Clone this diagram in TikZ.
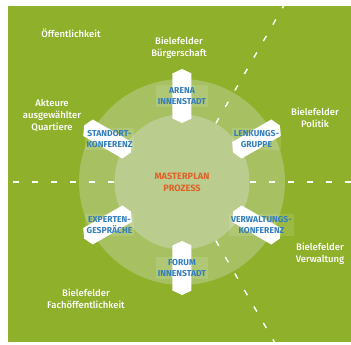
\documentclass[tikz,border=0pt]{standalone}
\usepackage{fontspec}
\setmainfont{Fira Sans}
\newfontfamily\groupfont{Fira Sans}[UprightFont=* Medium]
\usetikzlibrary{shapes.symbols}
\definecolor{meadow}{RGB}{143,176,42}
\definecolor{ringgreen}{RGB}{166,192,98}
\definecolor{coregreen}{RGB}{186,204,142}
\definecolor{stageblue}{RGB}{50,126,190}
\definecolor{masterorange}{RGB}{222,98,40}

\begin{document}
\begin{tikzpicture}[x=1pt,y=1pt,
    hexbox/.style = {shape=signal, signal to=east and west, signal pointer angle=130, fill=white, minimum width=54pt, minimum height=19pt, inner sep=0pt},
    stage/.style = {align=center, text=stageblue, font=\bfseries\fontsize{8.6}{11}\selectfont, fill=white, fill opacity=0.12, text opacity=1, inner sep=2pt},
    group/.style = {align=center, text=white, font=\groupfont\fontsize{9.5}{12}\selectfont},
    divider/.style = {draw=white, line width=1.4pt, dash pattern=on 6pt off 13pt}]

      \useasboundingbox (-182,-163) rectangle (169,182);
      \fill[meadow] (-174,-160) rectangle (169,176);

      \node[circle, fill=ringgreen, minimum size=206pt](ring) at (0,0){};
      \node[circle, fill=coregreen, minimum size=135pt, align=center, text=masterorange, font=\bfseries\fontsize{9.2}{12}\selectfont](core) at (0,0){MASTERPLAN\\PROZESS};

      \coordinate (westend) at (-174,0);
      \coordinate (eastend) at (169,0);
      \coordinate (northend) at (101.6,176);
      \coordinate (southend) at (92.4,-160);

      \path[divider]
      (core.west) edge (westend)
      (core.east) edge (eastend)
      (core.60) edge (northend)
      (core.-60) edge (southend)
      ;

      % hexagons round the core
      \node[hexbox, rotate=90](arena) at (90:86){};
      \node[hexbox, rotate=30](lenkung) at (30:86){};
      \node[hexbox, rotate=-30](verwaltung) at (-30:86){};
      \node[hexbox, rotate=90](forum) at (-90:86){};
      \node[hexbox, rotate=30](experten) at (-150:86){};
      \node[hexbox, rotate=-30](standort) at (150:86){};

      \node[stage](arenatext) at (arena){ARENA\\INNENSTADT};
      \node[stage](lenkungtext) at (lenkung){LENKUNGS-\\GRUPPE};
      \node[stage](verwaltungtext) at ([xshift=5pt]verwaltung){VERWALTUNGS-\\KONFERENZ};
      \node[stage](forumtext) at (forum){FORUM\\INNENSTADT};
      \node[stage](expertentext) at ([xshift=2pt]experten){EXPERTEN-\\GESPRÄCHE};
      \node[stage](standorttext) at ([xshift=2pt]standort){STANDORT-\\KONFERENZ};

      % groups outside
      \node[group](public) at (-111,149){Öffentlichkeit};
      \node[group](citizens) at (-3,134){Bielefelder\\Bürgerschaft};
      \node[group](actors) at (-130,66){Akteure\\ausgewählter\\Quartiere};
      \node[group](politics) at (133,64){Bielefelder\\Politik};
      \node[group](admin) at (138,-72){Bielefelder\\Verwaltung};
      \node[group](experts) at (-96,-117){Bielefelder\\Fachöffentlichkeit};

    \end{tikzpicture}
\end{document}
